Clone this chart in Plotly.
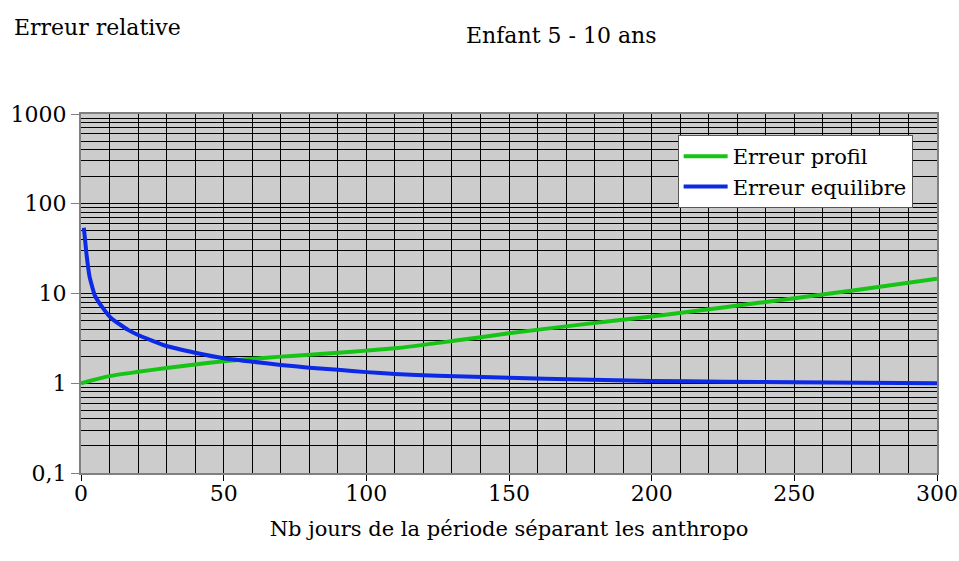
import plotly.graph_objects as go

# Data
profil_x = [0, 10, 20, 30, 40, 50, 60, 70, 80, 90, 100, 110, 130, 150, 175, 200, 225, 250, 275, 300]
profil_y = [1.0, 1.2, 1.34, 1.48, 1.62, 1.76, 1.87, 1.98, 2.08, 2.19, 2.31, 2.45, 2.95, 3.6, 4.5, 5.55, 7.0, 8.85, 11.3, 14.6]

equil_x = [1, 1.9, 3, 4.8, 7.7, 10.6, 16.5, 20, 30, 40, 50, 60, 70, 80, 90, 100, 110, 125, 150, 175, 200, 225, 250, 275, 300]
equil_y = [54, 28, 15.4, 9.6, 6.86, 5.3, 3.93, 3.45, 2.6, 2.19, 1.9, 1.74, 1.6, 1.49, 1.41, 1.33, 1.27, 1.21, 1.15, 1.1, 1.06, 1.04, 1.025, 1.01, 1.0]

y_tickvals = [0.1, 1, 10, 100, 1000]
y_ticktext = ["0,1", "1", "10", "100", "1000"]
x_tickvals = [0, 50, 100, 150, 200, 250, 300]

minor_y = [m * 10 ** e for e in range(-1, 3) for m in range(2, 10)]

FONT = "DejaVu Serif"
FS = 22

fig = go.Figure()
fig.add_trace(go.Scatter(x=profil_x, y=profil_y, mode="lines", name="Erreur profil",
                         line=dict(color="#16c416", width=4, shape="spline", smoothing=0.6)))
fig.add_trace(go.Scatter(x=equil_x, y=equil_y, mode="lines", name="Erreur equilibre",
                         line=dict(color="#0c2ae6", width=4, shape="spline", smoothing=0.4)))

fig.update_layout(
    width=959, height=561,
    margin=dict(l=81, r=22, t=114, b=88),
    paper_bgcolor="white", plot_bgcolor="#cccccc",
    font=dict(family=FONT, size=FS, color="black"),
    showlegend=True,
    legend=dict(x=0.697, y=0.9415, xanchor="left", yanchor="top",
                bgcolor="white", bordercolor="#555555", borderwidth=1,
                font=dict(family=FONT, size=21), tracegroupgap=0, itemwidth=44),
    xaxis=dict(range=[0, 300], tickvals=x_tickvals, ticks="outside", ticklen=6,
               tickcolor="black", showgrid=True, gridcolor="black", gridwidth=1,
               ticklabelstandoff=-6,
               minor=dict(dtick=10, showgrid=True, gridcolor="black", gridwidth=1, ticks=""),
               showline=True, linecolor="#808080", linewidth=2, mirror=True,
               zeroline=False, automargin=False,
               title=dict(text="Nb jours de la période séparant les anthropo", standoff=16,
                          font=dict(family=FONT, size=21))),
    yaxis=dict(type="log", range=[-1, 3], tickvals=y_tickvals, ticktext=y_ticktext,
               ticks="outside", ticklen=8, tickcolor="#808080",
               showgrid=True, gridcolor="black", gridwidth=1,
               minor=dict(tickvals=minor_y, showgrid=True, gridcolor="black", gridwidth=1, ticks=""),
               showline=True, linecolor="#808080", linewidth=2, mirror=True,
               zeroline=False, automargin=False),
    annotations=[
        dict(text="Erreur relative", xref="paper", yref="paper", x=-0.081, y=1.24,
             xanchor="left", yanchor="middle", showarrow=False, font=dict(family=FONT, size=FS)),
        dict(text="Enfant 5 - 10 ans", xref="paper", yref="paper", x=0.561, y=1.219,
             xanchor="center", yanchor="middle", showarrow=False, font=dict(family=FONT, size=FS)),
    ],
)

fig.write_html("out.html")
